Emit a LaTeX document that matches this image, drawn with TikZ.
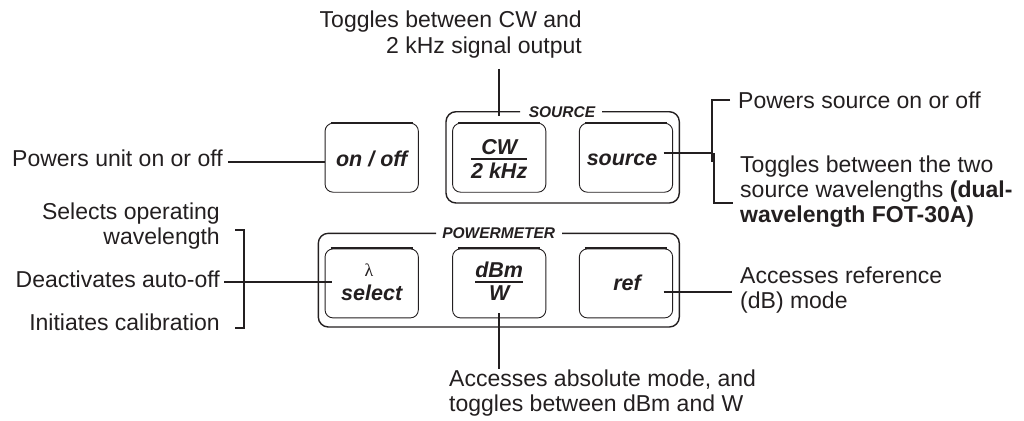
\documentclass[tikz,border=0pt]{standalone}
\usepackage{fontspec}
\setmainfont{Liberation Sans}
\newfontfamily\greekserif{Liberation Serif}
\definecolor{ink}{HTML}{231F20}
\begin{document}
\begin{tikzpicture}[x=1pt,y=1pt,
  txt/.style={inner sep=0pt, text=ink, font=\fontsize{23}{25}\selectfont},
  btn/.style={draw=ink, line width=0.9pt, rounded corners=8pt, minimum width=93.3pt, minimum height=69pt, inner sep=0pt},
  grp/.style={draw=ink, line width=1.4pt, rounded corners=10pt},
  conn/.style={draw=ink, line width=1.8pt},
  key/.style={inner sep=0pt, text=ink, font=\fontsize{21.5}{22}\selectfont\bfseries\itshape},
  grplabel/.style={inner sep=0pt, text=ink, font=\fontsize{15.5}{16}\selectfont\bfseries\itshape},
  topedge/.style={draw=ink, line width=2pt},
  fracbar/.style={draw=ink, line width=2pt}]
\useasboundingbox (0,0) rectangle (1024,-420);

% group labels
\node[grplabel, anchor=base] (srcgrp) at (562,-117.2) {SOURCE};
\node[grplabel, anchor=base] (pwrgrp) at (498.7,-238.8) {POWERMETER};

% group frames (open where the label sits)
\draw[grp] (602,-111.7) -- (679.3,-111.7) -- (679.3,-203) -- (446,-203) -- (446,-111.7) -- (520,-111.7);
\draw[grp] (562,-233.3) -- (679.3,-233.3) -- (679.3,-327) -- (318.3,-327) -- (318.3,-233.3) -- (436,-233.3);

% keys
\node[btn] (onoff) at (371.7,-157.7) {};
\node[btn] (cw)    at (499.2,-157.7) {};
\node[btn] (src)   at (626,-157.7) {};
\node[btn] (sel)   at (371.7,-283.4) {};
\node[btn] (dbm)   at (499.2,-283.4) {};
\node[btn] (ref)   at (626,-283.4) {};
\foreach \k in {onoff,cw,src,sel,dbm,ref}
  \draw[topedge] ([xshift=6pt]\k.north west) -- ([xshift=-6pt]\k.north east);

% key legends
\node[key, anchor=base] (onofflbl) at (371.7,-166) {on / off};
\node[key, anchor=base] (cwnum) at (499.2,-154.5) {CW};
\node[key, anchor=base] (cwden) at (499.2,-178.3) {2 kHz};
\draw[fracbar] ([yshift=4pt]cwden.north west) -- ([yshift=4pt]cwden.north east);
\node[key, anchor=base] (srclbl) at (622,-165) {source};
\node[anchor=base, inner sep=0pt, text=ink, font=\greekserif\fontsize{18}{18}\selectfont] (lam) at (369,-276) {λ};
\node[key, anchor=base] (sellbl) at (371.7,-300) {select};
\node[key, anchor=base] (dbmnum) at (499.2,-277.3) {dBm};
\draw[fracbar] ([yshift=-4.4pt]dbmnum.south west) -- ([yshift=-4.4pt]dbmnum.south east);
\node[key, anchor=base] (dbmden) at (499.2,-300.7) {W};
\node[key, anchor=base] (reflbl) at (627,-290) {ref};

% callout texts (base anchor = baseline of the last line)
\node[txt, align=right, anchor=base east] (cwtext) at (582,-53) {Toggles between CW and\\2 kHz signal output};
\node[txt, anchor=base west] (onofftext) at (12,-166.7) {Powers unit on or off};
\node[txt, anchor=base west] (srcpow) at (738,-108) {Powers source on or off};
\node[txt, align=left, anchor=base west] (srctog) at (740,-222) {Toggles between the two\\source wavelengths \textbf{(dual-}\\\textbf{wavelength FOT-30A)}};
\node[txt, align=right, anchor=base east] (selects) at (220,-244) {Selects operating\\wavelength};
\node[txt, anchor=base east] (deact) at (220,-287) {Deactivates auto-off};
\node[txt, anchor=base east] (init) at (220,-330) {Initiates calibration};
\node[txt, align=left, anchor=base west] (accabs) at (449,-411) {Accesses absolute mode, and\\toggles between dBm and W};
\node[txt, align=left, anchor=base west] (accref) at (740,-308) {Accesses reference\\(dB) mode};

% connectors
\coordinate (cwtop) at ([yshift=-11pt]cwtext.south);
\draw[conn] (cwtop -| cw.north) -- ([yshift=7pt]cw.north);
\draw[conn] ([shift={(5pt,4.5pt)}]onofftext.base east) coordinate (c1) -- (c1 -| onoff.west);
\coordinate (rbtop) at ([shift={(-26pt,8pt)}]srcpow.base west);
\draw[conn] ([shift={(-8pt,8pt)}]srcpow.base west) -- (rbtop) -- ++(0,-62);
\draw[conn] ([shift={(-9.5pt,4.7pt)}]src.east) coordinate (c2) -- (c2 -| rbtop);
\draw[conn] ([xshift=2pt]c2 -| rbtop) -- ++(0,-50) -- ([shift={(-7pt,19pt)}]srctog.base west);
\draw[conn] ([shift={(4pt,5pt)}]deact.base east) coordinate (c3) -- ([xshift=7pt]c3 -| sel.west);
\draw[conn] (235,-230) -- (244.3,-230) -- (244.3,-328.3) -- (235,-328.3);
\draw[conn] ([yshift=5pt]dbm.south) -- (dbm.south |- accabs.north);
\draw[conn] ([shift={(-9.5pt,-8.3pt)}]ref.east) coordinate (c4) -- ([xshift=-8pt]c4 -| accref.west);
\end{tikzpicture}
\end{document}
